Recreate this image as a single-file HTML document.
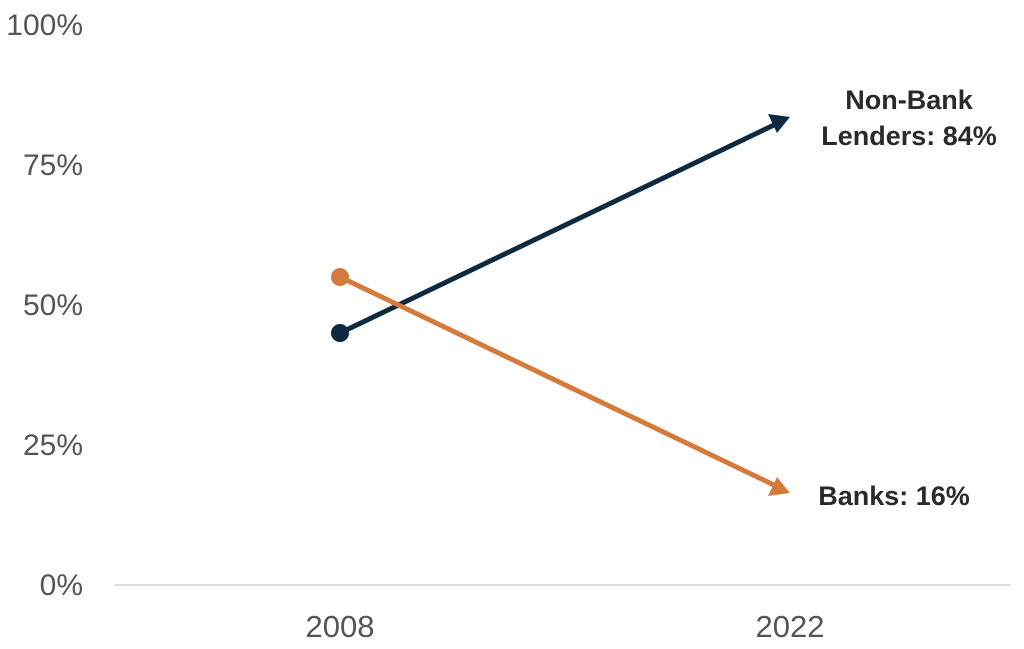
<!DOCTYPE html>
<html><head><style>body{margin:0;background:#fff}svg{display:block}</style></head><body>
<svg width="1024" height="649" viewBox="0 0 1024 649" xmlns="http://www.w3.org/2000/svg">
<g font-family="Liberation Sans, sans-serif" font-size="30" fill="#555" text-anchor="end">
<text x="83" y="35">100%</text>
<text x="83" y="175">75%</text>
<text x="83" y="315">50%</text>
<text x="83" y="455">25%</text>
<text x="83" y="595">0%</text>
</g>
<line x1="115" y1="585" x2="1010" y2="585" stroke="#d0d0d0" stroke-width="1.5"/>
<g font-family="Liberation Sans, sans-serif" font-size="31" fill="#555" text-anchor="middle">
<text x="340" y="637">2008</text>
<text x="790" y="637">2022</text>
</g>
<line x1="340" y1="333" x2="776" y2="124" stroke="#0e2a40" stroke-width="5"/>
<polygon points="790,117 768,114 777,133" fill="#0e2a40"/>
<circle cx="340" cy="333" r="9" fill="#0e2a40"/>
<line x1="340" y1="277" x2="776" y2="486" stroke="#d47a3c" stroke-width="5"/>
<polygon points="790,493 777,477 768,496" fill="#d47a3c"/>
<circle cx="340" cy="277" r="9" fill="#d47a3c"/>
<g font-family="Liberation Sans, sans-serif" font-size="27" font-weight="bold" fill="#2a2a2a" text-anchor="middle">
<text x="909" y="109">Non-Bank</text>
<text x="909" y="145">Lenders: 84%</text>
<text x="894" y="505">Banks: 16%</text>
</g>
</svg>
</body></html>
